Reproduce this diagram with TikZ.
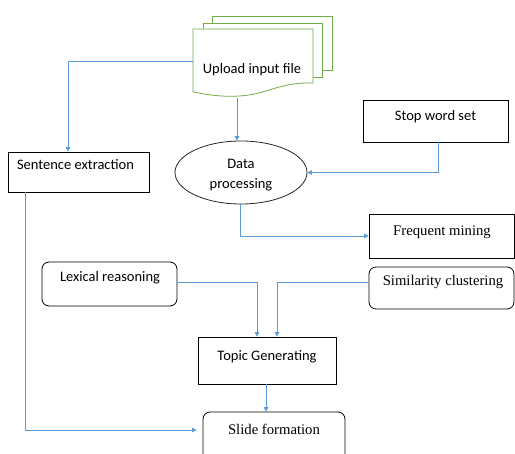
\documentclass[tikz,border=0pt]{standalone}
\usepackage{fontspec}
\setmainfont{Carlito}
\newfontfamily\tnr{Liberation Serif}
\usetikzlibrary{shapes.geometric,arrows.meta}
\definecolor{arrowblue}{RGB}{91,155,213}
\definecolor{docgreen}{RGB}{112,173,71}
\begin{document}
\begin{tikzpicture}[x=1pt,y=-1pt,
  arr/.style={draw=arrowblue, line width=0.8pt, -{Triangle[width=4.5pt,length=4.5pt]}},
  sqbox/.style={draw=black, line width=0.8pt, fill=white, inner sep=0pt},
  rbox/.style={sqbox, rounded corners=7pt},
  cal/.style={font=\fontsize{14.5}{20}\selectfont, inner sep=0pt},
  tms/.style={font=\fontsize{14.7}{18}\tnr, inner sep=0pt},
  sheet/.style={draw=docgreen, line width=0.8pt, fill=white}
]
\useasboundingbox (0,0) rectangle (515,454);
\clip (0,0) rectangle (515,454);
\fill[white] (0,0) rectangle (515,454);

% document stack
\draw[sheet] (212,16) rectangle (332,70);
\draw[sheet] (203,23) rectangle (322,77);
\draw[sheet] (193,29) -- (313,29) -- (313,83)
  .. controls (282,82) and (268,93) .. (245,95.5)
  .. controls (222,98) and (205,94) .. (193,92) -- cycle;
\coordinate (docL) at (193,61);
\coordinate (docB) at (237,98);
\node[cal] (upload) at (252,70) {Upload input file};

% boxes
\node[sqbox, minimum width=141pt, minimum height=40pt] (sent) at (78.5,172) {};
\node[cal] (sentT) at (75.5,165) {Sentence extraction};

\node[draw=black!85, line width=0.8pt, ellipse, minimum width=132pt, minimum height=63pt, inner sep=0pt] (proc) at (241,172.5) {};
\node[cal, align=center] (procT) at (241,175) {Data\\processing};

\node[sqbox, minimum width=145pt, minimum height=42pt] (stop) at (435.5,121) {};
\node[cal] (stopT) at (435.5,117) {Stop word set};

\node[sqbox, minimum width=145pt, minimum height=44pt] (freq) at (441.5,236) {};
\node[tms] (freqT) at (442,232) {Frequent mining};

\node[rbox, minimum width=135pt, minimum height=44pt] (lex) at (109.5,284) {};
\node[cal] (lexT) at (110,278) {Lexical reasoning};

\node[rbox, minimum width=145pt, minimum height=42pt] (sim) at (441.5,288) {};
\node[tms] (simT) at (443,282) {Similarity clustering};

\node[sqbox, minimum width=138pt, minimum height=47pt] (topic) at (267,360.5) {};
\node[cal] (topicT) at (267,357) {Topic Generating};

\node[rbox, minimum width=142pt, minimum height=58pt] (slide) at (274,441) {};
\node[tms] (slideT) at (274,429) {Slide formation};

% connectors
\draw[arr] (docL) -| ([xshift=-10.5pt]sent.north);
\draw[arr] (docB) -- (docB |- proc.north);
\draw[arr] ([xshift=2.5pt]stop.south) |- (proc.east);
\draw[arr] ([xshift=-1pt]proc.south) |- (freq.west);
\draw[arr] ([yshift=2pt]lex.east) -| ([xshift=-10pt]topic.north);
\draw[arr] ([yshift=6pt]sim.west) -| ([xshift=10pt]topic.north);
\draw[arr] ([xshift=-1pt]topic.south) -- ([xshift=-1pt]topic.south |- slide.north);
\draw[arr] ([xshift=-53.5pt]sent.south) |- ([yshift=11pt,xshift=-6pt]slide.west);
\end{tikzpicture}
\end{document}
